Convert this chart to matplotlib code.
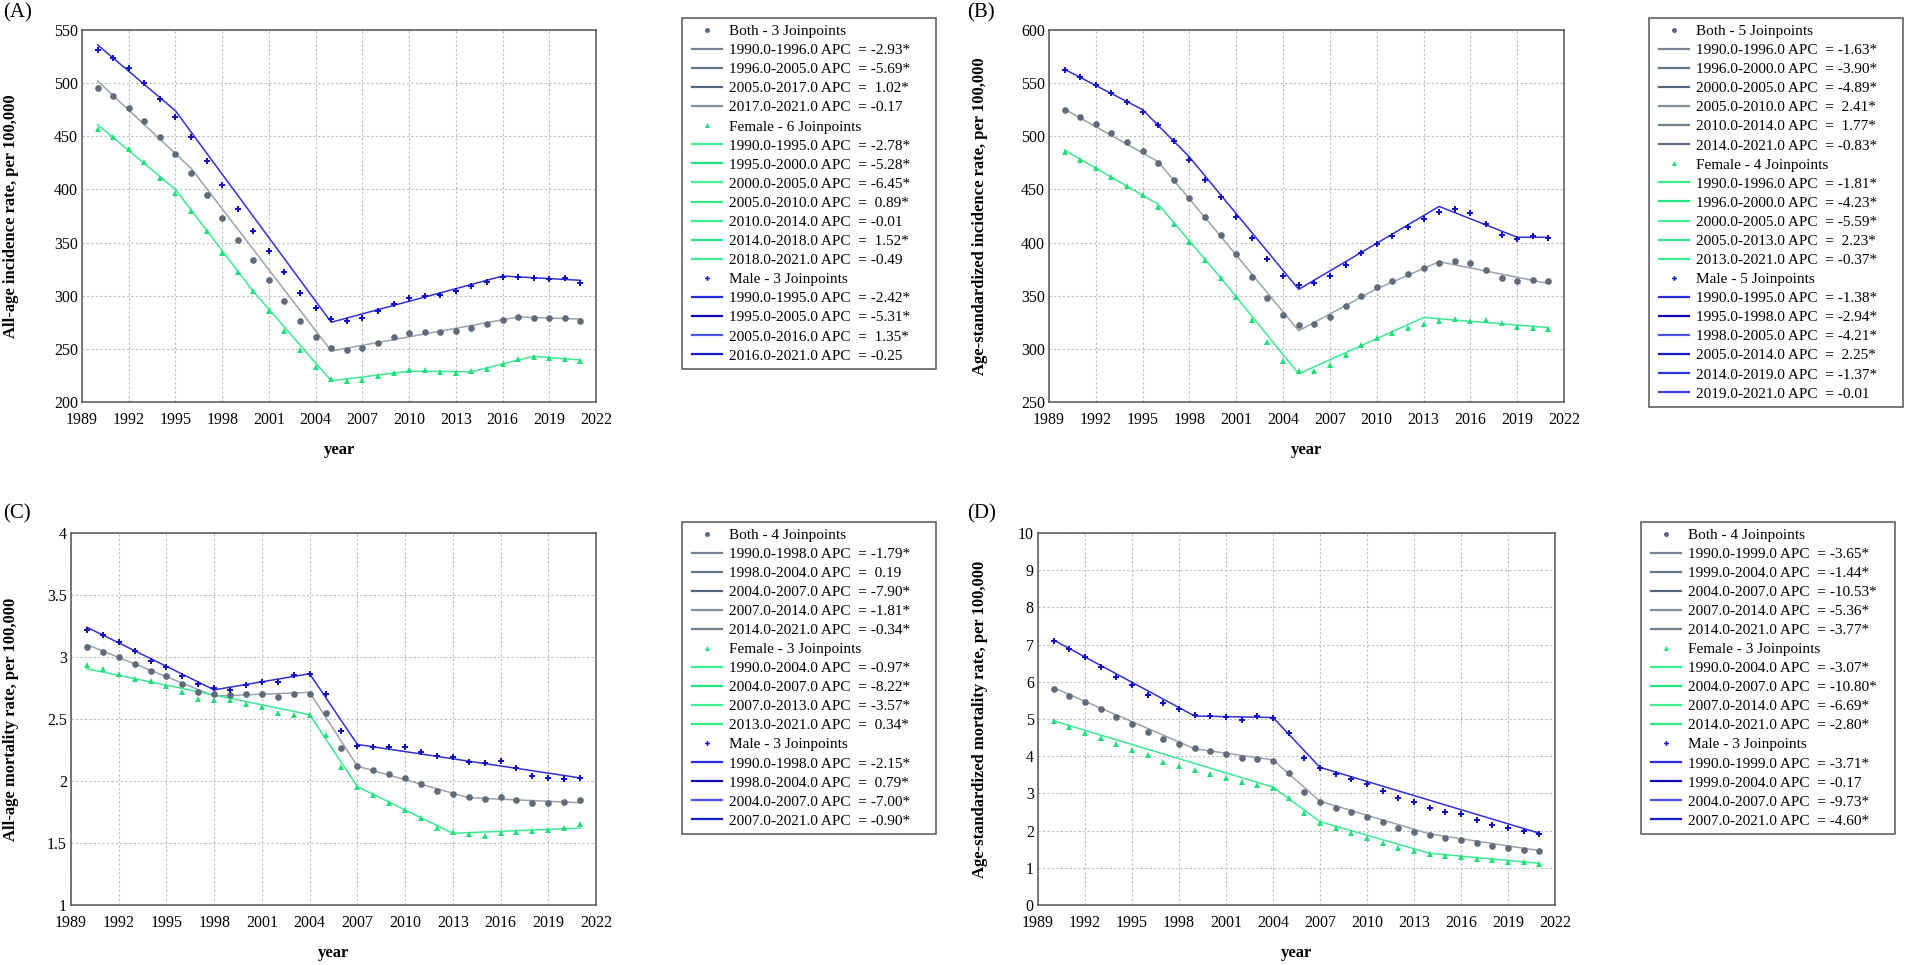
import matplotlib
matplotlib.use('Agg')
from matplotlib import pyplot as plt
from matplotlib.lines import Line2D
from matplotlib.patches import Rectangle
from matplotlib.ticker import FormatStrFormatter, MultipleLocator

plt.rcParams['font.family'] = 'serif'
plt.rcParams['font.serif'] = ['Liberation Serif', 'DejaVu Serif']

years = list(range(1990, 2022))

# (A) all-age incidence
a_both = [495, 488, 477, 464.5, 449, 433, 415.5, 395, 373.5, 352.5, 334, 315, 295, 276.5, 261, 251,
          249, 251, 255.5, 261, 265, 265.5, 265.5, 267, 270, 273.5, 277.5, 280, 279.5, 279.5, 279, 276.5]
a_female = [457, 449.5, 438, 425.5, 411, 396.5, 379.5, 361, 340.5, 322, 304.5, 286, 266.5, 248.5, 233, 222,
            219.5, 220.5, 224, 227.5, 230, 230, 228, 227.5, 229, 231.5, 236, 240, 242.5, 241.5, 240.5, 238.5]
a_male = [531, 524, 514, 500, 485, 468, 449, 427, 404, 382, 361, 342, 322, 303, 288, 278,
          276.5, 279.5, 286, 292.5, 297.5, 300, 301, 304, 309, 313, 317.5, 318, 317, 316, 317, 312]
a_both_knots = [1990, 1996, 2005, 2017, 2021]
a_both_fit = [502, 420, 248, 280, 278]
a_both_apc = [-2.93, -5.69, 1.02, -0.17]
a_both_sig = [1, 1, 1, 0]
a_female_knots = [1990, 1995, 2000, 2005, 2010, 2014, 2018, 2021]
a_female_fit = [461, 400, 304, 220, 229, 228.5, 243, 239.5]
a_female_apc = [-2.78, -5.28, -6.45, 0.89, -0.01, 1.52, -0.49]
a_female_sig = [1, 1, 1, 1, 0, 1, 0]
a_male_knots = [1990, 1995, 2005, 2016, 2021]
a_male_fit = [536, 474, 275, 318.5, 314.5]
a_male_apc = [-2.42, -5.31, 1.35, -0.25]
a_male_sig = [1, 1, 1, 0]

# (B) age-standardized incidence
b_both = [525, 518.5, 511.5, 503.5, 495, 486, 474.5, 459, 441.5, 424, 407, 389, 368, 348, 331.5, 322.5,
          323.5, 330, 340, 350, 358, 364, 370, 376, 381, 382.5, 380.5, 374, 367, 364, 365, 364]
b_female = [485.5, 478, 470.5, 462, 453.5, 444.5, 433.5, 417.5, 400.5, 383.5, 367, 348.5, 327, 306.5, 289, 279,
            279.5, 285, 294, 303.5, 310, 315, 319.5, 323.5, 326.5, 328, 326.5, 327, 324, 321, 320, 319]
b_male = [562, 556, 548.5, 540.5, 532, 523, 511, 495.5, 477.5, 459, 442.5, 424.5, 404, 384.5, 368.5, 360,
          361.5, 368.5, 379, 390, 399, 406, 414.5, 422.5, 428.5, 431.5, 427.5, 417.5, 407.5, 403.5, 406, 404.5]
b_both_knots = [1990, 1996, 2000, 2005, 2010, 2014, 2021]
b_both_fit = [525.5, 476, 406, 317, 356.5, 382, 361.5]
b_both_apc = [-1.63, -3.90, -4.89, 2.41, 1.77, -0.83]
b_both_sig = [1, 1, 1, 1, 1, 1]
b_female_knots = [1990, 1996, 2000, 2005, 2013, 2021]
b_female_fit = [487, 436, 367, 276.5, 329.5, 320]
b_female_apc = [-1.81, -4.23, -5.59, 2.23, -0.37]
b_female_sig = [1, 1, 1, 1, 1]
b_male_knots = [1990, 1995, 1998, 2005, 2014, 2019, 2021]
b_male_fit = [563, 525, 480.5, 356, 434, 405, 405]
b_male_apc = [-1.38, -2.94, -4.21, 2.25, -1.37, -0.01]
b_male_sig = [1, 1, 1, 1, 1, 0]

# (C) all-age mortality
c_both = [3.08, 3.04, 3.00, 2.945, 2.89, 2.845, 2.785, 2.72, 2.70, 2.69, 2.70, 2.70, 2.675, 2.70, 2.705, 2.545,
          2.265, 2.12, 2.085, 2.055, 2.025, 1.975, 1.92, 1.895, 1.87, 1.855, 1.87, 1.845, 1.825, 1.825, 1.83, 1.845]
c_female = [2.935, 2.905, 2.865, 2.825, 2.81, 2.765, 2.715, 2.66, 2.655, 2.65, 2.62, 2.60, 2.55, 2.535, 2.535, 2.375,
            2.115, 1.95, 1.89, 1.825, 1.765, 1.70, 1.625, 1.585, 1.575, 1.555, 1.58, 1.585, 1.595, 1.605, 1.625, 1.65]
c_male = [3.22, 3.175, 3.125, 3.05, 2.97, 2.92, 2.85, 2.78, 2.75, 2.735, 2.775, 2.795, 2.80, 2.855, 2.865, 2.705,
          2.40, 2.28, 2.275, 2.275, 2.275, 2.235, 2.205, 2.19, 2.155, 2.145, 2.16, 2.105, 2.04, 2.025, 2.02, 2.025]
c_both_knots = [1990, 1998, 2004, 2007, 2014, 2021]
c_both_fit = [3.10, 2.685, 2.715, 2.12, 1.865, 1.825]
c_both_apc = [-1.79, 0.19, -7.90, -1.81, -0.34]
c_both_sig = [1, 0, 1, 1, 1]
c_female_knots = [1990, 2004, 2007, 2013, 2021]
c_female_fit = [2.905, 2.535, 1.955, 1.578, 1.62]
c_female_apc = [-0.97, -8.22, -3.57, 0.34]
c_female_sig = [1, 1, 1, 1]
c_male_knots = [1990, 1998, 2004, 2007, 2021]
c_male_fit = [3.24, 2.735, 2.865, 2.295, 2.025]
c_male_apc = [-2.15, 0.79, -7.00, -0.90]
c_male_sig = [1, 1, 1, 1]

# (D) age-standardized mortality
d_both = [5.81, 5.63, 5.45, 5.26, 5.06, 4.87, 4.66, 4.47, 4.33, 4.21, 4.13, 4.06, 3.95, 3.93, 3.86, 3.54,
          3.04, 2.76, 2.62, 2.49, 2.36, 2.22, 2.08, 1.97, 1.87, 1.80, 1.74, 1.67, 1.58, 1.53, 1.47, 1.44]
d_female = [4.94, 4.79, 4.63, 4.48, 4.34, 4.18, 4.02, 3.85, 3.74, 3.64, 3.53, 3.42, 3.30, 3.22, 3.15, 2.88,
            2.47, 2.20, 2.07, 1.93, 1.80, 1.67, 1.54, 1.45, 1.38, 1.32, 1.28, 1.24, 1.20, 1.15, 1.15, 1.10]
d_male = [7.10, 6.87, 6.67, 6.40, 6.14, 5.91, 5.64, 5.42, 5.26, 5.10, 5.09, 5.05, 4.98, 5.09, 5.02, 4.62,
          3.95, 3.67, 3.53, 3.38, 3.24, 3.06, 2.88, 2.78, 2.62, 2.51, 2.44, 2.29, 2.15, 2.07, 1.99, 1.92]
d_both_knots = [1990, 1999, 2004, 2007, 2014, 2021]
d_both_fit = [5.84, 4.20, 3.90, 2.79, 1.91, 1.46]
d_both_apc = [-3.65, -1.44, -10.53, -5.36, -3.77]
d_both_sig = [1, 1, 1, 1, 1]
d_female_knots = [1990, 2004, 2007, 2014, 2021]
d_female_fit = [4.95, 3.17, 2.24, 1.39, 1.12]
d_female_apc = [-3.07, -10.80, -6.69, -2.80]
d_female_sig = [1, 1, 1, 1]
d_male_knots = [1990, 1999, 2004, 2007, 2021]
d_male_fit = [7.12, 5.08, 5.04, 3.70, 1.93]
d_male_apc = [-3.71, -0.17, -9.73, -4.60]
d_male_sig = [1, 0, 1, 1]

# цвета групп: маркер, линии на графике, оттенки в легенде
styles = {
    'Both': dict(marker='o', mcolor='#5f6b7a', ms=4.8, lcolor='#9aa3ad',
                 shades=['#75828f', '#66768a', '#56667a', '#8090a0', '#6e7e90', '#5e6e80']),
    'Female': dict(marker='^', mcolor='#1ee07a', ms=4.8, lcolor='#3ee890',
                   shades=['#3cee8c', '#22e47c', '#44f094', '#30ea86', '#3aec8c', '#2ae682', '#40ee90']),
    'Male': dict(marker='P', mcolor='#1010c8', ms=4.6, lcolor='#3030d8',
                 shades=['#2a2ae0', '#0c0cb0', '#4a55ee', '#1a1ac8', '#2a3ae0', '#3344e8']),
}

W, H = 1908, 965
LEG_FS = 11
fig = plt.figure(figsize=(W / 100, H / 100), dpi=100)


def make_legend(handles, anchor, spacing):
    return fig.legend(handles=handles, loc='upper left', bbox_to_anchor=anchor,
                      borderaxespad=0, fontsize=LEG_FS, frameon=False,
                      labelspacing=spacing, handlelength=1.95, handletextpad=0.45,
                      borderpad=0.35, handleheight=0.7)


def panel(box, legbox, tag, tag_xy, ylabel, ylab_x, ylim, ystep, groups):
    l, r, t, b = box
    ax = fig.add_axes([l / W, 1 - b / H, (r - l) / W, (b - t) / H])
    handles = []
    for name, obs, knots, fit, apc, sig in groups:
        st = styles[name]
        ax.plot(years, obs, linestyle='none', marker=st['marker'], color=st['mcolor'],
                markersize=st['ms'], markeredgewidth=0, zorder=3)
        handles.append(Line2D([], [], linestyle='none', marker=st['marker'], color=st['mcolor'],
                              markersize=st['ms'] - 1.2, markeredgewidth=0,
                              label=f'{name} - {len(knots) - 2} Joinpoints'))
        ax.plot(knots, fit, color=st['lcolor'], linewidth=1.1, zorder=2)
        for i in range(len(knots) - 1):
            c = st['shades'][i % len(st['shades'])]
            lab = f'{knots[i]:.1f}-{knots[i + 1]:.1f} APC  = {apc[i]:5.2f}' + ('*' if sig[i] else '')
            handles.append(Line2D([], [], color=c, linewidth=1.6, label=lab))
    ax.set_xlim(1989, 2022)
    ax.set_ylim(*ylim)
    ax.xaxis.set_major_locator(MultipleLocator(3))
    ax.yaxis.set_major_locator(MultipleLocator(ystep))
    ax.yaxis.set_major_formatter(FormatStrFormatter('%g'))
    ax.grid(True, color='#bdbdbd', linestyle=(0, (2, 2)), linewidth=0.8)
    ax.tick_params(length=0, labelsize=11.5)
    ax.tick_params(axis='x', pad=7)
    ax.tick_params(axis='y', pad=3)
    for s in ax.spines.values():
        s.set_color('#555555')
        s.set_linewidth(1.1)
    ax.set_xlabel('year', fontsize=12, fontweight='bold', labelpad=10)
    ax.set_ylabel(ylabel, fontsize=12, fontweight='bold')
    ax.yaxis.set_label_coords((ylab_x - l) / (r - l), 0.5)
    fig.text(tag_xy[0] / W, 1 - tag_xy[1] / H, tag, fontsize=15, va='top', ha='left')

    # рамка легенды отдельно, сама легенда без рамки
    bl, bt, br, bb = legbox
    fig.add_artist(Rectangle((bl / W, 1 - bb / H), (br - bl) / W, (bb - bt) / H,
                             transform=fig.transFigure, facecolor='white',
                             edgecolor='#555555', linewidth=1.1, zorder=0))
    anchor = ((bl + 5) / W, 1 - (bt + 1) / H)
    spacing = 0.2
    leg = make_legend(handles, anchor, spacing)
    # подогнать межстрочный интервал под высоту рамки
    fig.canvas.draw()
    h = leg.get_window_extent().height
    target = (bb - bt) - 2
    spacing += (target - h) / ((len(handles) - 1) * LEG_FS * 100 / 72)
    leg.remove()
    make_legend(handles, anchor, spacing)
    return ax


panel((82, 596, 30, 402), (682, 18, 936, 369), '(A)', (3, 3),
      'All-age incidence rate, per 100,000', 19, (200, 550), 50,
      [('Both', a_both, a_both_knots, a_both_fit, a_both_apc, a_both_sig),
       ('Female', a_female, a_female_knots, a_female_fit, a_female_apc, a_female_sig),
       ('Male', a_male, a_male_knots, a_male_fit, a_male_apc, a_male_sig)])

panel((1049, 1564, 30, 402), (1649, 18, 1903, 407), '(B)', (967, 3),
      'Age-standardized incidence rate, per 100,000', 988, (250, 600), 50,
      [('Both', b_both, b_both_knots, b_both_fit, b_both_apc, b_both_sig),
       ('Female', b_female, b_female_knots, b_female_fit, b_female_apc, b_female_sig),
       ('Male', b_male, b_male_knots, b_male_fit, b_male_apc, b_male_sig)])

panel((71, 596, 533, 905), (682, 522, 936, 834), '(C)', (3, 504),
      'All-age mortality rate, per 100,000', 19, (1, 4), 0.5,
      [('Both', c_both, c_both_knots, c_both_fit, c_both_apc, c_both_sig),
       ('Female', c_female, c_female_knots, c_female_fit, c_female_apc, c_female_sig),
       ('Male', c_male, c_male_knots, c_male_fit, c_male_apc, c_male_sig)])

panel((1038, 1555, 533, 905), (1641, 522, 1895, 834), '(D)', (967, 504),
      'Age-standardized mortality rate, per 100,000', 988, (0, 10), 1,
      [('Both', d_both, d_both_knots, d_both_fit, d_both_apc, d_both_sig),
       ('Female', d_female, d_female_knots, d_female_fit, d_female_apc, d_female_sig),
       ('Male', d_male, d_male_knots, d_male_fit, d_male_apc, d_male_sig)])

fig.savefig('out.png', dpi=100, facecolor='white')
